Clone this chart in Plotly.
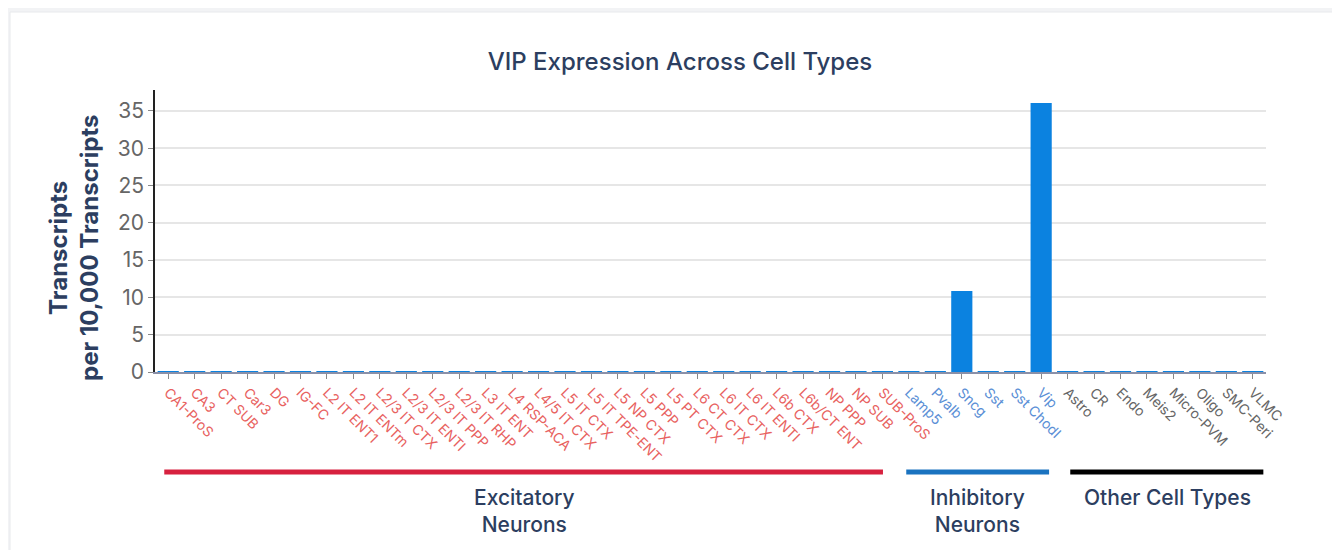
import plotly.graph_objects as go

excitatory = ["CA1-ProS", "CA3", "CT SUB", "Car3", "DG", "IG-FC", "L2 IT ENT1", "L2 IT ENTm",
              "L2/3 IT CTX", "L2/3 IT ENTl", "L2/3 IT PPP", "L2/3 IT RHP", "L3 IT ENT", "L4 RSP-ACA",
              "L4/5 IT CTX", "L5 IT CTX", "L5 IT TPE-ENT", "L5 NP CTX", "L5 PPP", "L5 PT CTX",
              "L6 CT CTX", "L6 IT CTX", "L6 IT ENTl", "L6b CTX", "L6b/CT ENT", "NP PPP", "NP SUB", "SUB-ProS"]
inhibitory = ["Lamp5", "Pvalb", "Sncg", "Sst", "Sst Chodl", "Vip"]
other = ["Astro", "CR", "Endo", "Meis2", "Micro-PVM", "Oligo", "SMC-Peri", "VLMC"]

exc_values = [0.01, 0.01, 0.03, 0.03, 0.01, 0.01, 0.02, 0.02, 0.03, 0.02, 0.02, 0.02, 0.01, 0.03,
              0.02, 0.02, 0.02, 0.02, 0.01, 0.01, 0.01, 0.01, 0.01, 0.01, 0.01, 0.01, 0.02, 0.02]
inh_values = [0.08, 0.02, 10.85, 0.03, 0.02, 36.05]
oth_values = [0.05, 0.02, 0.03, 0.02, 0.1, 0.02, 0.03, 0.05]

group_names = ["Excitatory<br>Neurons", "Inhibitory<br>Neurons", "Other Cell Types"]
group_colors = ["#d7213f", "#1a73c0", "#000000"]
label_colors = ["#e8625f", "#5b8fd6", "#666666"]

categories = excitatory + inhibitory + other
values = exc_values + inh_values + oth_values
n = len(categories)
xs = list(range(n))

fig = go.Figure()
fig.add_trace(go.Bar(x=xs, y=values, marker=dict(color="#0b82e0", line=dict(width=0)),
                     showlegend=False))

ticktext = []
for c in categories:
    if c in excitatory:
        col = label_colors[0]
    elif c in inhibitory:
        col = label_colors[1]
    else:
        col = label_colors[2]
    ticktext.append(f"<span style='color:{col}'>{c}</span>")

font_family = "Inter, Roboto, sans-serif"

# page body has an 8px margin; figure coordinates are page coordinates minus 8
W, H = 1332, 542
L, T = 147, 82
PR, PB = 1258, 364  # plot right / bottom in figure coords
pw, ph = PR - L, PB - T
step = pw / n

fig.update_layout(
    width=W, height=H,
    margin=dict(l=L, r=W - PR, t=T, b=H - PB),
    paper_bgcolor="#f2f3f5",
    plot_bgcolor="white",
    bargap=0.2,
    font=dict(family=font_family),
    title=dict(text="VIP Expression Across Cell Types", x=(680 - 8) / W, xref="container",
               y=1 - (62 - 8) / H, yref="container", xanchor="center", yanchor="middle",
               font=dict(size=24, color="#2c3e60", family=font_family, weight=500)),
    xaxis=dict(
        range=[-0.5, n - 0.5],
        tickmode="array", tickvals=xs, ticktext=ticktext,
        tickangle=45, tickfont=dict(size=14, family=font_family),
        ticks="outside", ticklen=5, tickcolor="#888888",
        showline=True, linecolor="#8a90a8", linewidth=2,
        showgrid=False, zeroline=False,
    ),
    yaxis=dict(
        range=[0, 37.8],
        tickvals=[0, 5, 10, 15, 20, 25, 30, 35],
        tickfont=dict(size=21, color="#666666", family=font_family),
        ticks="outside", ticklen=5, tickcolor="#888888",
        showline=True, linecolor="#222222", linewidth=1.5,
        showgrid=True, gridcolor="#e6e6e6", gridwidth=1.5,
        zeroline=False,
    ),
)

# y-axis title as an annotation (page coords center x~74, y~248)
fig.add_annotation(text="<b>Transcripts<br>per 10,000 Transcripts</b>",
                   xref="paper", yref="paper", x=(74 - 8 - L) / pw, y=(PB - (248 - 8)) / ph,
                   textangle=-90, showarrow=False, xanchor="center", yanchor="middle",
                   font=dict(size=24, color="#2c3e60", family=font_family))

# white card background (page coords x 10.., y 12..)
fig.add_shape(type="rect", xref="paper", yref="paper", layer="below",
              x0=(2 - L) / pw, x1=(W + 5 - L) / pw,
              y0=-(H + 5 - PB) / ph, y1=1 + (T - 4) / ph,
              fillcolor="white", line=dict(color="#e8e9ec", width=1))

group_ranges = [(-0.15, 27.02), (27.9, 33.3), (34.1, 41.4)]
group_label_x = [524, 977, 1167]
for (a, b), name, col, lx in zip(group_ranges, group_names, group_colors, group_label_x):
    fig.add_shape(type="line", xref="x", yref="paper", x0=a, x1=b,
                  y0=-100 / ph, y1=-100 / ph, line=dict(color=col, width=5))
    fig.add_annotation(text=name,
                       xref="x", yref="paper", x=(lx - 168) / step, y=-111 / ph,
                       showarrow=False, xanchor="center", yanchor="top",
                       font=dict(size=21, color="#2c3e60", family=font_family, weight=500))

fig.write_html("out.html")
